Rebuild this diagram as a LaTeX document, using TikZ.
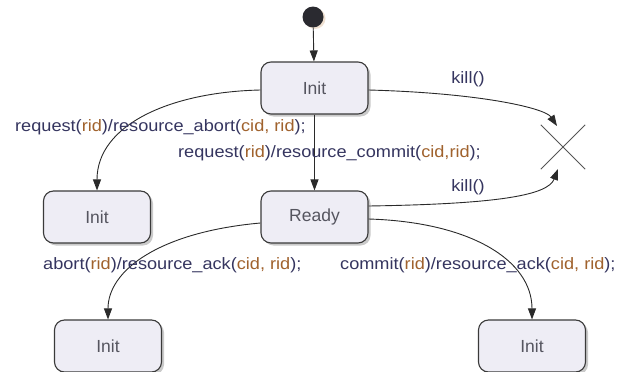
\documentclass[tikz,border=0pt]{standalone}
\usepackage{fontspec}
\setmainfont{Liberation Sans}
\newfontfamily\lblfont[FakeStretch=1.1]{Liberation Sans}
\usetikzlibrary{arrows.meta,shadows}

\definecolor{boxfill}{HTML}{EEEDF5}
\definecolor{boxline}{HTML}{3A3A3A}
\definecolor{nodetext}{HTML}{55555F}
\definecolor{linecol}{HTML}{2A2A2A}
\definecolor{navytext}{HTML}{35355F}
\definecolor{argcol}{HTML}{A0622D}
\definecolor{dotcol}{HTML}{2A2A30}
\definecolor{crosscol}{HTML}{555555}

\newcommand\argc[1]{\textcolor{argcol}{#1}}

\begin{document}
\begin{tikzpicture}[x=1pt,y=-1pt,
  state/.style={draw=boxline, fill=boxfill, rounded corners=10pt,
    minimum width=107pt, minimum height=52pt, inner sep=0pt,
    line width=1.1pt, text=nodetext, font=\fontsize{17.5}{20}\selectfont,
    drop shadow={shadow xshift=2.5pt, shadow yshift=-2.5pt, fill=black!35, opacity=0.6}},
  flow/.style={draw=linecol, line width=0.9pt, -{Triangle[length=11pt,width=8pt]}},
  lbl/.style={anchor=west, inner sep=0pt, text=navytext,
    font=\lblfont\fontsize{16.5}{19}\selectfont}]
\useasboundingbox (0,0) rectangle (624,372);

% states
\node[circle, fill=dotcol, minimum size=21pt, inner sep=0pt,
  drop shadow={shadow xshift=2pt, shadow yshift=-1.5pt, fill=brown!40, opacity=0.6}] (start) at (313,17) {};
\node[state] (init)  at (314.5,88)  {Init};
\node[state] (initL) at (97,217)    {Init};
\node[state] (ready) at (314.5,217) {Ready};
\node[state] (initBL) at (108,346)  {Init};
\node[state] (initBR) at (532,346)  {Init};

% terminate marker
\node[minimum size=44pt, inner sep=0pt] (term) at (563,147) {};
\draw[crosscol, line width=1pt] (term.north west) -- (term.south east)
  (term.north east) -- (term.south west);
\coordinate (k1) at (557,126);
\coordinate (k2) at (558,169);

% transitions
\draw[flow] (start) -- (init);
\draw[flow] (init.south) -- (ready.north);
\draw[flow] (init.west |- 0,90) .. controls (170,92) and (97,125) .. (initL.north);
\draw[flow] (init.east |- 0,90) .. controls (480,93) and (545,108) .. (k1);
\draw[flow] (ready.east |- 0,206) .. controls (500,204) and (548,195) .. (k2);
\draw[flow] (ready.west |- 0,223) .. controls (160,232) and (108,270) .. (initBL.north);
\draw[flow] (ready.east |- 0,219) .. controls (470,222) and (532,260) .. (initBR.north);

% labels
\node[lbl] (lAbortReq) at (15,127) {request(\argc{rid})/resource\_abort(\argc{cid, rid});};
\node[lbl] (lCommitReq) at (178,153) {request(\argc{rid})/resource\_commit(\argc{cid,rid});};
\node[lbl, anchor=center] (lKill1) at (468,79) {kill()};
\node[lbl, anchor=center] (lKill2) at (468,187) {kill()};
\node[lbl] (lAbort) at (43,265) {abort(\argc{rid})/resource\_ack(\argc{cid, rid});};
\node[lbl] (lCommit) at (340,265) {commit(\argc{rid})/resource\_ack(\argc{cid, rid});};
\end{tikzpicture}
\end{document}
